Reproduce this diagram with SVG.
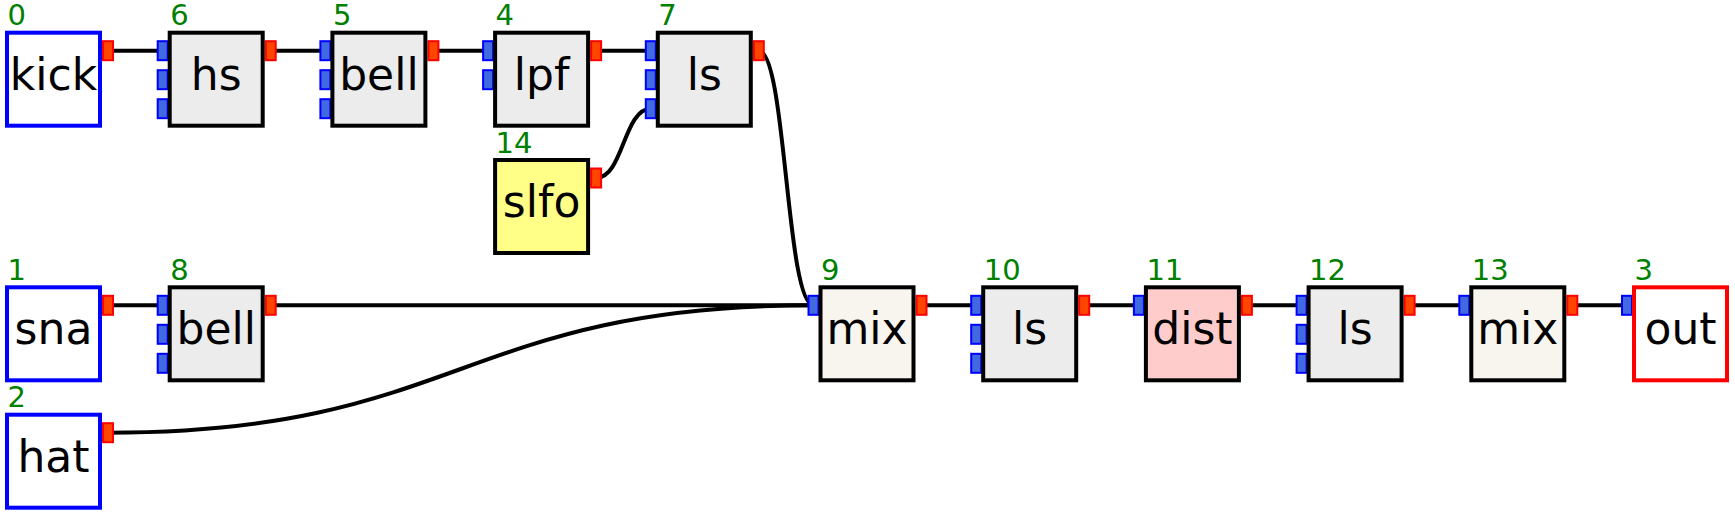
<svg xmlns="http://www.w3.org/2000/svg" width="1735" height="514" viewBox="0 0 1735 514">
<style>
.box{stroke:#000;stroke-width:4}
.io{fill:#fff;stroke:#00f}
.outn{fill:#fff;stroke:#f00}
.gray{fill:#ececec}
.mixf{fill:#f7f5ee}
.dist{fill:#ffcccc}
.slfo{fill:#ffff88}
.in{fill:#4169e1;stroke:#00f;stroke-width:2}
.out{fill:#ff4500;stroke:#f00;stroke-width:2}
.num{font-family:"DejaVu Sans",sans-serif;font-size:29px;fill:#008000}
.lbl{font-family:"DejaVu Sans",sans-serif;font-size:44px;fill:#000;text-anchor:middle}
.c{fill:none;stroke:#000;stroke-width:4}
</style>
<rect width="1735" height="514" fill="#fff"/>
<g id="connectors">
<path class="c" d="M108,50.7H162.7"/>
<path class="c" d="M270.7,50.7H325.4"/>
<path class="c" d="M433.4,50.7H488.1"/>
<path class="c" d="M596.1,50.7H650.8"/>
<path class="c" d="M596.1,178C623.45,178 623.45,108.7 650.8,108.7"/>
<path class="c" d="M758.8,50.7C786.15,50.7 786.15,305.3 813.5,305.3"/>
<path class="c" d="M108,305.3H162.7"/>
<path class="c" d="M270.7,305.3H813.5"/>
<path class="c" d="M108,432.7C460.75,432.7 460.75,305.3 813.5,305.3"/>
<path class="c" d="M921.5,305.3H976.2"/>
<path class="c" d="M1084.2,305.3H1138.9"/>
<path class="c" d="M1246.9,305.3H1301.6"/>
<path class="c" d="M1409.6,305.3H1464.3"/>
<path class="c" d="M1572.3,305.3H1627"/>
</g>
<g id="n0" transform="translate(7,32.7)">
<rect class="out" x="96" y="8.5" width="10" height="19"/>
<rect class="box io" width="93" height="93"/>
<text class="num" x="0.5" y="-7.5">0</text><text class="lbl" x="46.5" y="57">kick</text>
</g>
<g id="n6" transform="translate(169.7,32.7)">
<rect class="in" x="-12" y="8.5" width="10" height="19"/><rect class="in" x="-12" y="37.5" width="10" height="19"/><rect class="in" x="-12" y="66.5" width="10" height="19"/>
<rect class="out" x="96" y="8.5" width="10" height="19"/>
<rect class="box gray" width="93" height="93"/>
<text class="num" x="0.5" y="-7.5">6</text><text class="lbl" x="46.5" y="57">hs</text>
</g>
<g id="n5" transform="translate(332.4,32.7)">
<rect class="in" x="-12" y="8.5" width="10" height="19"/><rect class="in" x="-12" y="37.5" width="10" height="19"/><rect class="in" x="-12" y="66.5" width="10" height="19"/>
<rect class="out" x="96" y="8.5" width="10" height="19"/>
<rect class="box gray" width="93" height="93"/>
<text class="num" x="0.5" y="-7.5">5</text><text class="lbl" x="46.5" y="57">bell</text>
</g>
<g id="n4" transform="translate(495.1,32.7)">
<rect class="in" x="-12" y="8.5" width="10" height="19"/><rect class="in" x="-12" y="37.5" width="10" height="19"/>
<rect class="out" x="96" y="8.5" width="10" height="19"/>
<rect class="box gray" width="93" height="93"/>
<text class="num" x="0.5" y="-7.5">4</text><text class="lbl" x="46.5" y="57">lpf</text>
</g>
<g id="n7" transform="translate(657.8,32.7)">
<rect class="in" x="-12" y="8.5" width="10" height="19"/><rect class="in" x="-12" y="37.5" width="10" height="19"/><rect class="in" x="-12" y="66.5" width="10" height="19"/>
<rect class="out" x="96" y="8.5" width="10" height="19"/>
<rect class="box gray" width="93" height="93"/>
<text class="num" x="0.5" y="-7.5">7</text><text class="lbl" x="46.5" y="57">ls</text>
</g>
<g id="n14" transform="translate(495.1,160)">
<rect class="out" x="96" y="8.5" width="10" height="19"/>
<rect class="box slfo" width="93" height="93"/>
<text class="num" x="0.5" y="-7.5">14</text><text class="lbl" x="46.5" y="57">slfo</text>
</g>
<g id="n1" transform="translate(7,287.3)">
<rect class="out" x="96" y="8.5" width="10" height="19"/>
<rect class="box io" width="93" height="93"/>
<text class="num" x="0.5" y="-7.5">1</text><text class="lbl" x="46.5" y="57">sna</text>
</g>
<g id="n8" transform="translate(169.7,287.3)">
<rect class="in" x="-12" y="8.5" width="10" height="19"/><rect class="in" x="-12" y="37.5" width="10" height="19"/><rect class="in" x="-12" y="66.5" width="10" height="19"/>
<rect class="out" x="96" y="8.5" width="10" height="19"/>
<rect class="box gray" width="93" height="93"/>
<text class="num" x="0.5" y="-7.5">8</text><text class="lbl" x="46.5" y="57">bell</text>
</g>
<g id="n9" transform="translate(820.5,287.3)">
<rect class="in" x="-12" y="8.5" width="10" height="19"/>
<rect class="out" x="96" y="8.5" width="10" height="19"/>
<rect class="box mixf" width="93" height="93"/>
<text class="num" x="0.5" y="-7.5">9</text><text class="lbl" x="46.5" y="57">mix</text>
</g>
<g id="n10" transform="translate(983.2,287.3)">
<rect class="in" x="-12" y="8.5" width="10" height="19"/><rect class="in" x="-12" y="37.5" width="10" height="19"/><rect class="in" x="-12" y="66.5" width="10" height="19"/>
<rect class="out" x="96" y="8.5" width="10" height="19"/>
<rect class="box gray" width="93" height="93"/>
<text class="num" x="0.5" y="-7.5">10</text><text class="lbl" x="46.5" y="57">ls</text>
</g>
<g id="n11" transform="translate(1145.9,287.3)">
<rect class="in" x="-12" y="8.5" width="10" height="19"/>
<rect class="out" x="96" y="8.5" width="10" height="19"/>
<rect class="box dist" width="93" height="93"/>
<text class="num" x="0.5" y="-7.5">11</text><text class="lbl" x="46.5" y="57">dist</text>
</g>
<g id="n12" transform="translate(1308.6,287.3)">
<rect class="in" x="-12" y="8.5" width="10" height="19"/><rect class="in" x="-12" y="37.5" width="10" height="19"/><rect class="in" x="-12" y="66.5" width="10" height="19"/>
<rect class="out" x="96" y="8.5" width="10" height="19"/>
<rect class="box gray" width="93" height="93"/>
<text class="num" x="0.5" y="-7.5">12</text><text class="lbl" x="46.5" y="57">ls</text>
</g>
<g id="n13" transform="translate(1471.3,287.3)">
<rect class="in" x="-12" y="8.5" width="10" height="19"/>
<rect class="out" x="96" y="8.5" width="10" height="19"/>
<rect class="box mixf" width="93" height="93"/>
<text class="num" x="0.5" y="-7.5">13</text><text class="lbl" x="46.5" y="57">mix</text>
</g>
<g id="n3" transform="translate(1634,287.3)">
<rect class="in" x="-12" y="8.5" width="10" height="19"/>
<rect class="box outn" width="93" height="93"/>
<text class="num" x="0.5" y="-7.5">3</text><text class="lbl" x="46.5" y="57">out</text>
</g>
<g id="n2" transform="translate(7,414.7)">
<rect class="out" x="96" y="8.5" width="10" height="19"/>
<rect class="box io" width="93" height="93"/>
<text class="num" x="0.5" y="-7.5">2</text><text class="lbl" x="46.5" y="57">hat</text>
</g>
</svg>
